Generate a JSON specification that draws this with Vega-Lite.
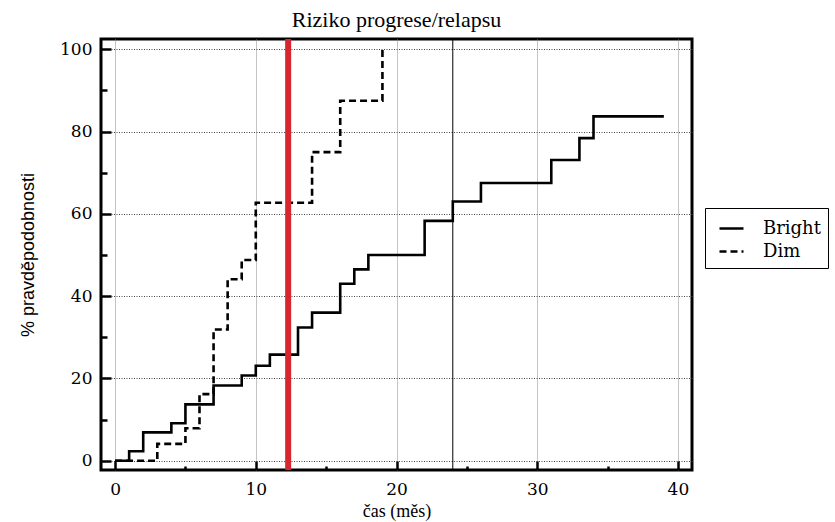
{
  "$schema": "https://vega.github.io/schema/vega-lite/v6.json",
  "width": 591,
  "height": 431,
  "autosize": "none",
  "padding": {"left": 101, "top": 39, "right": 143, "bottom": 52},
  "background": "white",
  "title": {
    "text": "Riziko progrese/relapsu",
    "font": "Liberation Serif",
    "fontSize": 22,
    "fontWeight": "normal",
    "color": "black",
    "anchor": "middle",
    "offset": 4
  },
  "datasets": {
    "curves": [
      {"t": 0, "p": 0, "group": "Bright"},
      {"t": 1, "p": 2.3, "group": "Bright"},
      {"t": 2, "p": 6.9, "group": "Bright"},
      {"t": 4, "p": 9.1, "group": "Bright"},
      {"t": 5, "p": 13.7, "group": "Bright"},
      {"t": 7, "p": 18.3, "group": "Bright"},
      {"t": 9, "p": 20.7, "group": "Bright"},
      {"t": 10, "p": 23.1, "group": "Bright"},
      {"t": 11, "p": 25.8, "group": "Bright"},
      {"t": 13, "p": 32.4, "group": "Bright"},
      {"t": 14, "p": 36.0, "group": "Bright"},
      {"t": 16, "p": 43.0, "group": "Bright"},
      {"t": 17, "p": 46.5, "group": "Bright"},
      {"t": 18, "p": 50.0, "group": "Bright"},
      {"t": 22, "p": 58.3, "group": "Bright"},
      {"t": 24, "p": 63.0, "group": "Bright"},
      {"t": 26, "p": 67.5, "group": "Bright"},
      {"t": 31, "p": 73.1, "group": "Bright"},
      {"t": 33, "p": 78.4, "group": "Bright"},
      {"t": 34, "p": 83.7, "group": "Bright"},
      {"t": 39, "p": 83.7, "group": "Bright"},
      {"t": 0, "p": 0, "group": "Dim"},
      {"t": 3, "p": 4.1, "group": "Dim"},
      {"t": 5, "p": 7.9, "group": "Dim"},
      {"t": 6, "p": 16.2, "group": "Dim"},
      {"t": 7, "p": 31.9, "group": "Dim"},
      {"t": 8, "p": 44.1, "group": "Dim"},
      {"t": 9, "p": 48.8, "group": "Dim"},
      {"t": 10, "p": 62.7, "group": "Dim"},
      {"t": 14, "p": 75.0, "group": "Dim"},
      {"t": 16, "p": 87.5, "group": "Dim"},
      {"t": 19, "p": 100, "group": "Dim"}
    ],
    "markers": [
      {"t": 12.3, "kind": "red"},
      {"t": 24, "kind": "black"}
    ]
  },
  "layer": [
    {
      "data": {"name": "curves"},
      "mark": {"type": "line", "interpolate": "step-after", "strokeWidth": 2.6, "color": "black", "strokeCap": "butt"},
      "encoding": {
        "x": {
          "field": "t",
          "type": "quantitative",
          "scale": {"domain": [-1, 41], "nice": false, "zero": false},
          "axis": {
            "title": "čas (měs)",
            "values": [0, 5, 10, 15, 20, 25, 30, 35, 40],
            "labelExpr": "datum.value % 10 === 0 ? datum.label : ''",
            "domain": false,
            "ticks": true,
            "tickColor": "black",
            "tickWidth": 2.5,
            "tickSize": {"condition": {"test": "datum.value % 10 === 0", "value": -9}, "value": -4},
            "labelPadding": 20,
            "labelFont": "DejaVu Serif",
            "labelFontSize": 17,
            "labelColor": "black",
            "labelFlush": false,
            "grid": true,
            "gridColor": "#888888",
            "gridDash": [1, 1],
            "gridWidth": 1,
            "gridOpacity": {"condition": {"test": "datum.value % 10 === 0", "value": 1}, "value": 0},
            "titleFont": "Liberation Serif",
            "titleFontSize": 18,
            "titleFontWeight": "normal",
            "titleColor": "black",
            "titleBaseline": "alphabetic",
            "titleY": 46
          }
        },
        "y": {
          "field": "p",
          "type": "quantitative",
          "scale": {"domain": [-2.25, 102.5], "nice": false, "zero": false},
          "axis": {
            "title": "% pravděpodobnosti",
            "values": [0, 10, 20, 30, 40, 50, 60, 70, 80, 90, 100],
            "labelExpr": "datum.value % 20 === 0 ? datum.label : ''",
            "domain": false,
            "ticks": true,
            "tickColor": "black",
            "tickWidth": 2.5,
            "tickSize": {"condition": {"test": "datum.value % 20 === 0", "value": -10}, "value": -6},
            "labelPadding": 19,
            "labelFont": "DejaVu Serif",
            "labelFontSize": 17,
            "labelColor": "black",
            "labelFlush": false,
            "grid": true,
            "gridColor": "#444444",
            "gridDash": [1, 1.5],
            "gridWidth": 1,
            "gridOpacity": {"condition": {"test": "datum.value % 20 === 0", "value": 1}, "value": 0},
            "titleFont": "Liberation Sans",
            "titleFontSize": 18,
            "titleFontWeight": "normal",
            "titleColor": "black",
            "titleX": -64
          }
        },
        "strokeDash": {
          "field": "group",
          "type": "nominal",
          "scale": {"domain": ["Bright", "Dim"], "range": [[1, 0], [7, 4]]},
          "legend": {
            "title": null,
            "orient": "none",
            "legendX": 604,
            "legendY": 169,
            "strokeColor": "black",
            "fillColor": "white",
            "padding": 7,
            "symbolType": "stroke",
            "symbolSize": 576,
            "symbolOffset": 6,
            "symbolStrokeWidth": 2.5,
            "symbolStrokeColor": "black",
            "labelFont": "DejaVu Serif",
            "labelFontSize": 18,
            "labelColor": "black",
            "labelOffset": 18,
            "rowPadding": 0
          }
        }
      }
    },
    {
      "data": {"name": "markers"},
      "transform": [{"filter": "datum.kind === 'black'"}],
      "mark": {"type": "rule", "color": "black", "strokeWidth": 1},
      "encoding": {"x": {"field": "t", "type": "quantitative"}}
    },
    {
      "data": {"name": "markers"},
      "transform": [{"filter": "datum.kind === 'red'"}],
      "mark": {"type": "rule", "color": "#d7262f", "strokeWidth": 6},
      "encoding": {"x": {"field": "t", "type": "quantitative"}}
    }
  ],
  "config": {
    "view": {"stroke": "black", "strokeWidth": 3}
  }
}
